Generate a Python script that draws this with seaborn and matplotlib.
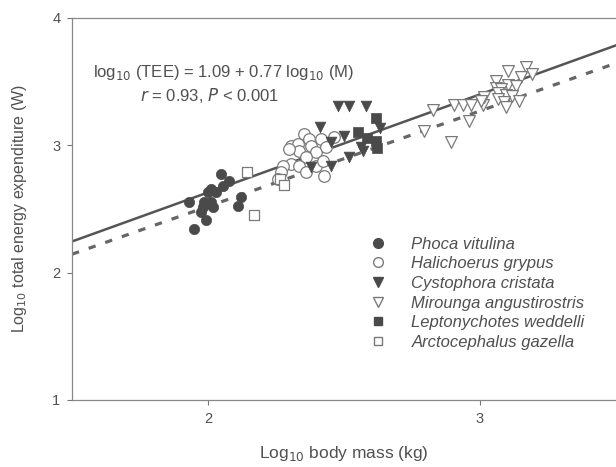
import numpy as np
import pandas as pd
import matplotlib
matplotlib.use("Agg")
import matplotlib.pyplot as plt
import seaborn as sns
from matplotlib.lines import Line2D

# log10 body mass (kg) and log10 TEE (W) per species
phoca_x = [2.048, 2.077, 2.055, 2.029, 2.000, 1.930, 1.985, 2.011, 1.982, 2.018,
           2.121, 2.110, 1.993, 1.949, 1.974, 2.011]
phoca_y = [2.772, 2.717, 2.677, 2.630, 2.630, 2.551, 2.551, 2.551, 2.512, 2.512,
           2.598, 2.520, 2.417, 2.339, 2.480, 2.654]

hali_x = [2.353, 2.371, 2.415, 2.305, 2.331, 2.335, 2.298, 2.379, 2.463, 2.397,
          2.434, 2.360, 2.305, 2.276, 2.335, 2.397, 2.423, 2.268, 2.426, 2.360, 2.257]
hali_y = [3.087, 3.047, 3.047, 2.992, 3.008, 2.953, 2.969, 2.992, 3.063, 2.945,
          2.984, 2.906, 2.850, 2.835, 2.835, 2.835, 2.874, 2.787, 2.756, 2.787, 2.732]

cysto_x = [2.478, 2.518, 2.581, 2.412, 2.500, 2.632, 2.452, 2.563, 2.379, 2.452,
           2.518, 2.570]
cysto_y = [3.307, 3.307, 3.307, 3.142, 3.071, 3.134, 3.024, 2.984, 2.827, 2.835,
           2.906, 2.953]

mir_x = [2.827, 2.794, 2.893, 2.904, 2.938, 2.967, 2.960, 3.011, 3.015, 3.059,
         3.059, 3.103, 3.169, 3.191, 3.151, 3.103, 3.132, 3.077, 3.066, 3.096,
         3.118, 3.066, 3.088, 3.096, 3.143, 3.004]
mir_y = [3.276, 3.110, 3.024, 3.315, 3.315, 3.315, 3.189, 3.315, 3.378, 3.504,
         3.449, 3.583, 3.614, 3.559, 3.535, 3.472, 3.465, 3.441, 3.409, 3.394,
         3.386, 3.362, 3.339, 3.299, 3.346, 3.346]

lepto_x = [2.618, 2.551, 2.585, 2.618, 2.621]
lepto_y = [3.213, 3.102, 3.055, 3.031, 2.976]

arcto_x = [2.143, 2.169, 2.265, 2.279]
arcto_y = [2.787, 2.449, 2.732, 2.685]

species = ["Phoca vitulina", "Halichoerus grypus", "Cystophora cristata",
           "Mirounga angustirostris", "Leptonychotes weddelli", "Arctocephalus gazella"]

# fitted regression and reference allometry (intercept, slope)
fit_coef = (1.09, 0.77)
ref_coef = (1.02, 0.75)

x_ticks = [2, 3]
y_ticks = [1, 2, 3, 4]

sns.set_theme(style="white")
plt.rcParams["font.family"] = ["Liberation Sans", "DejaVu Sans"]

dark = "#4a4a4a"
grey = "#7a7a7a"
text_c = "#505050"

fig = plt.figure(figsize=(6.16, 4.67), dpi=100)
ax = fig.add_axes([0.117, 0.1435, 0.883, 0.818])

# regression lines
xs = np.array([1.5, 3.5])
ax.plot(xs, fit_coef[0] + fit_coef[1] * xs, color="#555555", lw=1.8, zorder=2)
ax.plot(xs, ref_coef[0] + ref_coef[1] * xs, color="#666666", lw=2.3,
        linestyle=(0, (2.3, 3.2)), zorder=2)

styles = [
    (phoca_x, phoca_y, dict(marker="o", s=55, color=dark, edgecolor=dark, linewidth=0.5)),
    (hali_x, hali_y, dict(marker="o", s=70, facecolor="white", edgecolor=grey, linewidth=0.9)),
    (cysto_x, cysto_y, dict(marker="v", s=60, color=dark, edgecolor=dark, linewidth=0.5)),
    (mir_x, mir_y, dict(marker="v", s=72, facecolor="white", edgecolor=grey, linewidth=0.9)),
    (lepto_x, lepto_y, dict(marker="s", s=45, color=dark, edgecolor=dark, linewidth=0.5)),
    (arcto_x, arcto_y, dict(marker="s", s=55, facecolor="white", edgecolor=grey, linewidth=0.9)),
]
for (xv, yv, kw), name in zip(styles, species):
    df = pd.DataFrame({"mass": xv, "tee": yv})
    sns.scatterplot(data=df, x="mass", y="tee", ax=ax, zorder=3, legend=False, **kw)

ax.set_xlim(1.5, 3.5)
ax.set_ylim(1, 4)
ax.set_xticks(x_ticks)
ax.set_yticks(y_ticks)
ax.tick_params(axis="both", direction="out", length=3.5, width=0.8, color="#777777",
               labelsize=10.5, labelcolor=text_c, pad=5, bottom=True, left=True)
for side in ["left", "top", "bottom"]:
    ax.spines[side].set_color("#888888")
    ax.spines[side].set_linewidth(0.9)
ax.spines["right"].set_visible(False)

ax.set_xlabel(r"Log$_{10}$ body mass (kg)", fontsize=12.5, color=text_c, labelpad=13)
ax.set_ylabel(r"Log$_{10}$ total energy expenditure (W)", fontsize=11.5, color=text_c, labelpad=17)

ax.text(0.039, 0.856, r"log$_{10}$ (TEE) = 1.09 + 0.77 log$_{10}$ (M)", transform=ax.transAxes,
        fontsize=12, color=text_c, va="center", ha="left")
ax.text(0.125, 0.798, r"$\it{r}$ = 0.93, $\it{P}$ < 0.001", transform=ax.transAxes,
        fontsize=12, color=text_c, va="center", ha="left")

# legend
handles = [
    Line2D([], [], ls="none", marker="o", ms=7, mfc=dark, mec=dark),
    Line2D([], [], ls="none", marker="o", ms=7, mfc="white", mec=grey),
    Line2D([], [], ls="none", marker="v", ms=7, mfc=dark, mec=dark),
    Line2D([], [], ls="none", marker="v", ms=7, mfc="white", mec=grey),
    Line2D([], [], ls="none", marker="s", ms=6, mfc=dark, mec=dark),
    Line2D([], [], ls="none", marker="s", ms=6, mfc="white", mec=grey),
]
leg = ax.legend(handles, species, loc="upper left", bbox_to_anchor=(0.535, 0.445),
                frameon=False, handletextpad=1.5, labelspacing=0.28, fontsize=12,
                handlelength=1.0, borderaxespad=0)
for t in leg.get_texts():
    t.set_style("italic")
    t.set_color(text_c)

fig.savefig("out.png", dpi=100)
